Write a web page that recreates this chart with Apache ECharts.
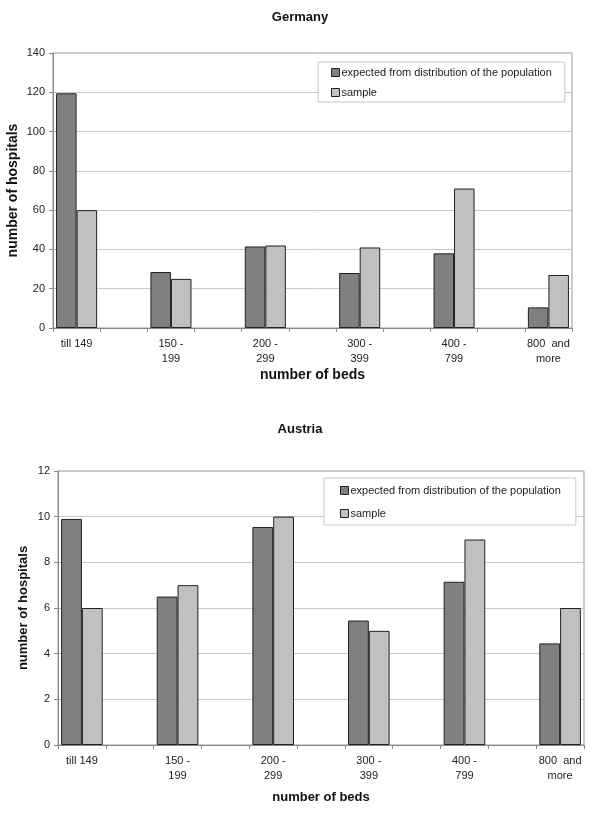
<!DOCTYPE html>
<html>
<head>
<meta charset="utf-8">
<script src="https://cdn.jsdelivr.net/npm/echarts@6/dist/echarts.min.js"></script>
<style>
    html, body { margin: 0; padding: 0; background: #fff; }
    #chart { width: 600px; height: 822px; }
</style>
</head>
<body>
<div id="chart"></div>
<script>
// categories (blank slots between groups, as in the original spreadsheet chart)
var categories = ['till 149', '', '150 -\n199', '', '200 -\n299', '', '300 -\n399', '', '400 -\n799', '', '800  and\nmore'];

var seriesNames = ['expected from distribution of the population', 'sample'];

// Germany
var germanyExpected = [119.5, '-', 28.5, '-', 41.5, '-', 28, '-', 38, '-', 10.5];
var germanySample = [60, '-', 25, '-', 42, '-', 41, '-', 71, '-', 27];

// Austria
var austriaExpected = [9.9, '-', 6.5, '-', 9.55, '-', 5.45, '-', 7.15, '-', 4.45];
var austriaSample = [6, '-', 7, '-', 10, '-', 5, '-', 9, '-', 6];

var font = 'Liberation Sans, Arial, sans-serif';

function xAxisFor(idx, nameGap, nameSize) {
    return {
        type: 'category',
        gridIndex: idx,
        data: categories,
        axisLine: { lineStyle: { color: '#888', width: 1 } },
        axisTick: { show: true, interval: 0, length: 4, lineStyle: { color: '#888' } },
        axisLabel: { interval: 0, color: '#222', fontSize: 11, fontFamily: font, lineHeight: 15, margin: 8 },
        name: 'number of beds',
        nameLocation: 'middle',
        nameGap: nameGap,
        nameMoveOverlap: false,
        nameTextStyle: { fontWeight: 'bold', fontSize: nameSize, color: '#111', fontFamily: font }
    };
}

function yAxisFor(idx, max, interval, nameGap, nameSize) {
    return {
        type: 'value',
        gridIndex: idx,
        min: 0,
        max: max,
        interval: interval,
        axisLine: { show: true, lineStyle: { color: '#888' } },
        axisTick: { show: true, length: 4, lineStyle: { color: '#888' } },
        axisLabel: { color: '#222', fontSize: 11, fontFamily: font, margin: 8 },
        splitLine: { lineStyle: { color: '#c8c8c8' } },
        name: 'number of hospitals',
        nameLocation: 'middle',
        nameRotate: 90,
        nameGap: nameGap,
        nameMoveOverlap: false,
        nameTextStyle: { fontWeight: 'bold', fontSize: nameSize, color: '#111', fontFamily: font }
    };
}

function legendFor(left, top, padding, itemGap) {
    return {
        data: seriesNames,
        orient: 'vertical',
        left: left,
        top: top,
        padding: padding,
        itemGap: itemGap,
        itemWidth: 8,
        itemHeight: 8,
        icon: 'rect',
        backgroundColor: '#fff',
        borderColor: '#c8c8c8',
        borderWidth: 1,
        borderRadius: 0,
        selectedMode: false,
        itemStyle: { borderColor: '#222', borderWidth: 1 },
        textStyle: { fontSize: 11, color: '#222', fontFamily: font, padding: [0, 0, 0, -3] }
    };
}

function barSeries(name, data, idx, color) {
    return {
        name: name,
        type: 'bar',
        xAxisIndex: idx,
        yAxisIndex: idx,
        data: data,
        barGap: '0%',
        barCategoryGap: '13%',
        itemStyle: { color: color, borderColor: '#222', borderWidth: 1 }
    };
}

var chart = echarts.init(document.getElementById('chart'));
chart.setOption({
    animation: false,
    backgroundColor: '#fff',
    title: [
        { text: 'Germany', left: 'center', top: 6, textStyle: { fontSize: 13, fontWeight: 'bold', color: '#111', fontFamily: font } },
        { text: 'Austria', left: 'center', top: 418, textStyle: { fontSize: 13, fontWeight: 'bold', color: '#111', fontFamily: font } }
    ],
    legend: [
        legendFor(318, 62, [5, 13, 4, 13], 9),
        legendFor(324, 478, [7, 15, 6, 16], 12)
    ],
    grid: [
        { left: 53, right: 28, top: 53, height: 275, show: true, borderColor: '#999', borderWidth: 1, backgroundColor: '#fff', outerBoundsMode: 'none', containLabel: false },
        { left: 58, right: 16, top: 471, height: 274, show: true, borderColor: '#999', borderWidth: 1, backgroundColor: '#fff', outerBoundsMode: 'none', containLabel: false }
    ],
    xAxis: [
        xAxisFor(0, 40, 14),
        xAxisFor(1, 46, 13)
    ],
    yAxis: [
        yAxisFor(0, 140, 20, 33, 14),
        yAxisFor(1, 12, 2, 28, 13)
    ],
    series: [
        barSeries(seriesNames[0], germanyExpected, 0, '#808080'),
        barSeries(seriesNames[1], germanySample, 0, '#c0c0c0'),
        barSeries(seriesNames[0], austriaExpected, 1, '#808080'),
        barSeries(seriesNames[1], austriaSample, 1, '#c0c0c0')
    ]
});
</script>
</body>
</html>
